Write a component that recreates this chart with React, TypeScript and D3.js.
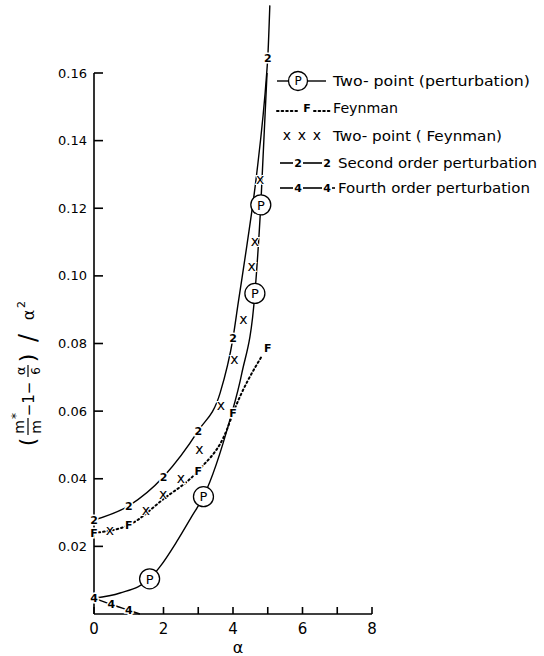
import React from "react";
import * as d3 from "d3";

const W = 544;
const H = 656;

// axes
const alphaTickValues = [0, 1, 2, 3, 4, 5, 6, 7, 8];
const alphaLabelValues = [0, 2, 4, 6, 8];
const alphaLabelTexts = ["0", "2", "4", "6", "8"];
const yTickValues = [0.02, 0.04, 0.06, 0.08, 0.1, 0.12, 0.14, 0.16];
const yTickTexts = ["0.02", "0.04", "0.06", "0.08", "0.10", "0.12", "0.14", "0.16"];

// Two-point (perturbation) curve and P markers
const ptCurveAlpha = [0, 0.75, 1.6, 1.9, 2.38, 2.81, 3.15, 3.91, 4.25, 4.63, 4.8, 4.98];
const ptCurveValue = [0.0047, 0.0062, 0.0104, 0.014, 0.0214, 0.0288, 0.0347, 0.0574, 0.071, 0.0948, 0.121, 0.16];
const ptMarkerAlpha = [1.6, 3.15, 4.63, 4.8];
const ptMarkerValue = [0.0104, 0.0347, 0.0948, 0.121];

// Feynman dotted curve and F markers
const feynCurveAlpha = [0, 1, 2, 3, 3.82, 4, 4.83];
const feynCurveValue = [0.024, 0.0263, 0.034, 0.0424, 0.0544, 0.0594, 0.0763];
const feynMarkerAlpha = [0, 1, 3, 4, 5];
const feynMarkerValue = [0.024, 0.0263, 0.0424, 0.0594, 0.0787];

// Two-point (Feynman) x markers
const tpfAlpha = [0.46, 1.49, 1.99, 2.5, 3.03, 3.65, 4.04, 4.3, 4.54, 4.63, 4.78];
const tpfValue = [0.0246, 0.0306, 0.0352, 0.0401, 0.0485, 0.0615, 0.0751, 0.087, 0.1027, 0.11, 0.1284];

// Second order perturbation curve and "2" markers
const secondCurveAlpha = [0, 1, 2, 3, 3.63, 4, 4.15, 4.4, 4.68, 4.97, 5.0, 5.06];
const secondCurveValue = [0.0278, 0.032, 0.0406, 0.0542, 0.0654, 0.0816, 0.092, 0.109, 0.13, 0.16, 0.1644, 0.18];
const secondMarkerAlpha = [0, 1, 2, 3, 4, 5];
const secondMarkerValue = [0.0278, 0.032, 0.0406, 0.0542, 0.0816, 0.1644];

// Fourth order perturbation curve and "4" markers
const fourthCurveAlpha = [0, 0.5, 1.0, 1.32];
const fourthCurveValue = [0.0047, 0.0028, 0.0011, 0];
const fourthMarkerAlpha = [0, 0.5, 1.0];
const fourthMarkerValue = [0.0047, 0.0028, 0.0011];

const legendLabels = [
  "Two- point (perturbation)",
  "Feynman",
  "Two- point ( Feynman)",
  "Second order perturbation",
  "Fourth order perturbation",
];

const FONT = "'DejaVu Sans', 'Liberation Sans', Arial, sans-serif";

export default function App() {
  const x = d3.scaleLinear().domain([0, 8]).range([94, 372]);
  const y = d3.scaleLinear().domain([0, 0.16]).range([614, 73]);

  const line = d3
    .line<[number, number]>()
    .x((d) => x(d[0]))
    .y((d) => y(d[1]))
    .curve(d3.curveMonotoneX);

  const zip = (a: number[], b: number[]) => a.map((v, i) => [v, b[i]] as [number, number]);

  const halo = { stroke: "#fff", strokeWidth: 3, paintOrder: "stroke" as const };

  const legendRowY = [81, 108, 136, 163, 188];

  return (
    <svg
      width={W}
      height={H}
      viewBox={`0 0 ${W} ${H}`}
      style={{ position: "absolute", left: 0, top: 0, background: "#fff" }}
      fontFamily={FONT}
    >
      <rect x={0} y={0} width={W} height={H} fill="#fff" />

      {/* axes */}
      <g stroke="#000" strokeWidth={1.6} fill="none">
        <line x1={x(0)} y1={y(0)} x2={x(8)} y2={y(0)} />
        <line x1={x(0)} y1={y(0)} x2={x(0)} y2={y(0.16)} />
        {alphaTickValues.map((t) => (
          <line key={"xt" + t} x1={x(t)} x2={x(t)} y1={y(0)} y2={y(0) - 7} />
        ))}
        {yTickValues.map((t) => (
          <line key={"yt" + t} x1={x(0)} x2={x(0) + 9} y1={y(t)} y2={y(t)} />
        ))}
      </g>
      {alphaLabelValues.map((t, i) => (
        <text key={"xl" + t} x={x(t)} y={634} fontSize={15} textAnchor="middle" fill="#000">
          {alphaLabelTexts[i]}
        </text>
      ))}
      {yTickValues.map((t, i) => (
        <text key={"yl" + t} x={87} y={y(t)} dy="0.35em" fontSize={13} textAnchor="end" fill="#000">
          {yTickTexts[i]}
        </text>
      ))}
      <text x={238} y={653} fontSize={16} textAnchor="middle" fill="#000">
        α
      </text>

      {/* y-axis title */}
      <g transform="translate(28,371) rotate(-90)" fill="#000" fontSize={14}>
        <text x={-71} y={7} fontSize={22} textAnchor="middle">(</text>
        <text x={-56} y={-4} textAnchor="middle">m</text>
        <text x={-48} y={-8} fontSize={12} textAnchor="start">*</text>
        <line x1={-64} x2={-47} y1={0} y2={0} stroke="#000" strokeWidth={1.2} />
        <text x={-56} y={13} textAnchor="middle">m</text>
        <text x={-28} y={6} fontSize={15} textAnchor="middle">−1−</text>
        <text x={0} y={-3} fontSize={13} textAnchor="middle">α</text>
        <line x1={-6} x2={6} y1={0} y2={0} stroke="#000" strokeWidth={1.2} />
        <text x={0} y={12} fontSize={12} textAnchor="middle">6</text>
        <text x={13} y={7} fontSize={22} textAnchor="middle">)</text>
        <text x={33} y={8} fontSize={24} textAnchor="middle">/</text>
        <text x={56} y={6} fontSize={16} textAnchor="middle">α</text>
        <text x={63} y={-3} fontSize={11} textAnchor="start">2</text>
      </g>

      {/* curves */}
      <g fill="none" stroke="#000">
        <path d={line(zip(secondCurveAlpha, secondCurveValue)) || ""} strokeWidth={1.4} />
        <path d={line(zip(ptCurveAlpha, ptCurveValue)) || ""} strokeWidth={1.4} />
        <path d={line(zip(fourthCurveAlpha, fourthCurveValue)) || ""} strokeWidth={1.4} />
        <path
          d={line(zip(feynCurveAlpha, feynCurveValue)) || ""}
          strokeWidth={2}
          strokeDasharray="1.6 3"
          strokeLinecap="round"
        />
      </g>

      {/* markers */}
      <g fill="#000" fontWeight="bold">
        {secondMarkerAlpha.map((a, i) => (
          <text key={"m2" + i} x={x(a)} y={y(secondMarkerValue[i])} dy="0.36em" fontSize={11} textAnchor="middle" {...halo} fill="#000">
            2
          </text>
        ))}
        {fourthMarkerAlpha.map((a, i) => (
          <text key={"m4" + i} x={x(a)} y={y(fourthMarkerValue[i])} dy="0.36em" fontSize={11} textAnchor="middle" {...halo} fill="#000">
            4
          </text>
        ))}
        {feynMarkerAlpha.map((a, i) => (
          <text key={"mf" + i} x={x(a)} y={y(feynMarkerValue[i])} dy="0.36em" fontSize={11} textAnchor="middle" {...halo} fill="#000">
            F
          </text>
        ))}
      </g>
      <g fill="#000">
        {tpfAlpha.map((a, i) => (
          <text key={"mx" + i} x={x(a)} y={y(tpfValue[i])} dy="0.3em" fontSize={14} textAnchor="middle" {...halo} strokeWidth={2} fill="#000">
            x
          </text>
        ))}
      </g>
      {ptMarkerAlpha.map((a, i) => (
        <g key={"mp" + i} transform={`translate(${x(a)},${y(ptMarkerValue[i])})`}>
          <circle r={10} fill="#fff" stroke="#000" strokeWidth={1.3} />
          <text dy="0.36em" fontSize={13} textAnchor="middle" fill="#000">P</text>
        </g>
      ))}

      {/* legend */}
      <g fill="#000" stroke="none">
        {/* row 1: P */}
        <line x1={277} x2={288} y1={legendRowY[0]} y2={legendRowY[0]} stroke="#000" strokeWidth={1.4} />
        <circle cx={298} cy={legendRowY[0]} r={9.5} fill="#fff" stroke="#000" strokeWidth={1.3} />
        <text x={298} y={legendRowY[0]} dy="0.36em" fontSize={12} textAnchor="middle">P</text>
        <line x1={308} x2={326} y1={legendRowY[0]} y2={legendRowY[0]} stroke="#000" strokeWidth={1.4} />
        {/* row 2: F dotted */}
        <line x1={277} x2={298} y1={legendRowY[1] + 3} y2={legendRowY[1] + 3} stroke="#000" strokeWidth={2} strokeDasharray="1.6 3" strokeLinecap="round" />
        <text x={307} y={legendRowY[1]} dy="0.36em" fontSize={11} fontWeight="bold" textAnchor="middle">F</text>
        <line x1={314} x2={330} y1={legendRowY[1] + 3} y2={legendRowY[1] + 3} stroke="#000" strokeWidth={2} strokeDasharray="1.6 3" strokeLinecap="round" />
        {/* row 3: x x x */}
        {[287, 302, 317].map((px) => (
          <text key={"lx" + px} x={px} y={legendRowY[2]} dy="0.3em" fontSize={14} textAnchor="middle">x</text>
        ))}
        {/* row 4: 2 */}
        <line x1={280} x2={293} y1={legendRowY[3]} y2={legendRowY[3]} stroke="#000" strokeWidth={1.6} />
        <text x={298} y={legendRowY[3]} dy="0.36em" fontSize={11} fontWeight="bold" textAnchor="middle">2</text>
        <line x1={303} x2={322} y1={legendRowY[3]} y2={legendRowY[3]} stroke="#000" strokeWidth={1.6} />
        <text x={327} y={legendRowY[3]} dy="0.36em" fontSize={11} fontWeight="bold" textAnchor="middle">2</text>
        {/* row 5: 4 */}
        <line x1={280} x2={293} y1={legendRowY[4]} y2={legendRowY[4]} stroke="#000" strokeWidth={1.6} />
        <text x={298} y={legendRowY[4]} dy="0.36em" fontSize={11} fontWeight="bold" textAnchor="middle">4</text>
        <line x1={303} x2={322} y1={legendRowY[4]} y2={legendRowY[4]} stroke="#000" strokeWidth={1.6} />
        <text x={327} y={legendRowY[4]} dy="0.36em" fontSize={11} fontWeight="bold" textAnchor="middle">4</text>
        <line x1={332} x2={335} y1={legendRowY[4]} y2={legendRowY[4]} stroke="#000" strokeWidth={1.6} />

        {legendLabels.map((lab, i) => {
          const startX = i >= 3 ? 338 : 333;
          const lens = [197, 65, 169, 199, 192];
          return (
            <text
              key={"lt" + i}
              x={startX}
              y={legendRowY[i]}
              dy="0.36em"
              fontSize={13.5}
              textLength={lens[i]}
              lengthAdjust="spacingAndGlyphs"
            >
              {lab}
            </text>
          );
        })}
      </g>
    </svg>
  );
}
